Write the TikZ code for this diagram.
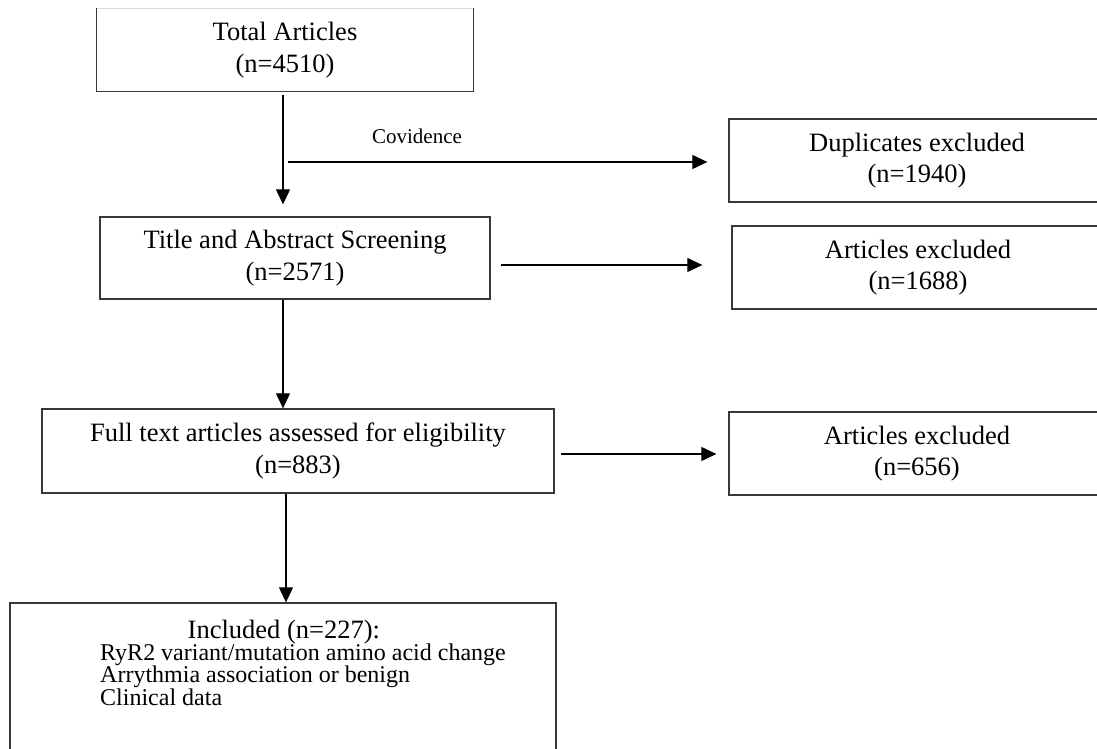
\documentclass[tikz,border=0pt]{standalone}
\usepackage{fontspec}
\setmainfont{Liberation Serif}
\usetikzlibrary{arrows.meta}
\begin{document}
\begin{tikzpicture}[x=1pt,y=1pt,
  box/.style={draw=black!78, line width=1.3pt, rectangle, inner sep=0pt, align=center,
    font=\fontsize{26.5}{31.5}\selectfont},
  edge/.style={draw=black!78, line width=1.3pt},
  faint/.style={draw=black!14, line width=1.3pt},
  arr/.style={draw=black, line width=1.1pt, -{Triangle[length=15pt,width=14pt]}},
  lst/.style={inner sep=0pt, anchor=north west, align=left,
    font=\fontsize{24}{22.3}\selectfont,
    execute at begin node={\setlength{\lineskiplimit}{-30pt}}},
  cov/.style={inner sep=0pt, anchor=base, font=\fontsize{21}{24}\selectfont}]
\useasboundingbox (0,0) rectangle (1097,749);
\clip (0,0) rectangle (1097,749);
% boxes
\node[box, draw=none, minimum width=376pt, minimum height=82pt] (total) at (285,699) {Total Articles\\(n=4510)};
\draw[faint] (total.north west) -- (total.north east);
\draw[edge] (total.north west) -- (total.south west) -- (total.south east) -- (total.north east);
\node[box, minimum width=390pt, minimum height=82pt] (title) at (295,491) {Title and Abstract Screening\\(n=2571)};
\node[box, minimum width=512pt, minimum height=84pt] (full) at (298,298) {Full text articles assessed for eligibility\\(n=883)};
\node[box, minimum width=376pt, minimum height=83pt] (dup) at (917,588.5) {Duplicates excluded\\(n=1940)};
\node[box, minimum width=372pt, minimum height=83pt] (art1) at (918,481.5) {Articles excluded\\(n=1688)};
\node[box, minimum width=376pt, minimum height=83pt] (art2) at (917,295.5) {Articles excluded\\(n=656)};
\node[box, minimum width=546pt, minimum height=166pt] (incl) at (283,63) {};
% included text
\node[lst] (itext) at (100,129.4) {%
  \hspace*{87.5pt}{\fontsize{26.5}{22.3}\selectfont Included (n=227):}\\
  RyR2 variant/mutation amino acid change\\
  Arrythmia association or benign\\
  Clinical data};
% connectors
\coordinate (covstart) at (288,587);
\draw[arr, shorten <=3pt, shorten >=12pt] ([xshift=-2pt]total.south) -- ([xshift=-12pt]title.north);
\draw[arr, shorten >=21pt] (covstart) -- (dup.west |- covstart);
\node[cov] (covlbl) at (417,605) {Covidence};
\draw[arr, shorten <=10pt, shorten >=29pt] ([yshift=-7pt]title.east) -- ([yshift=2.5pt]art1.west);
\draw[arr] ([xshift=-12pt]title.south) -- ([xshift=-15pt]full.north);
\draw[arr, shorten <=6pt, shorten >=12pt] ([yshift=-3pt]full.east) -- ([yshift=-0.5pt]art2.west);
\draw[arr] ([xshift=-12pt]full.south) -- ([xshift=3pt]incl.north);
\end{tikzpicture}
\end{document}
